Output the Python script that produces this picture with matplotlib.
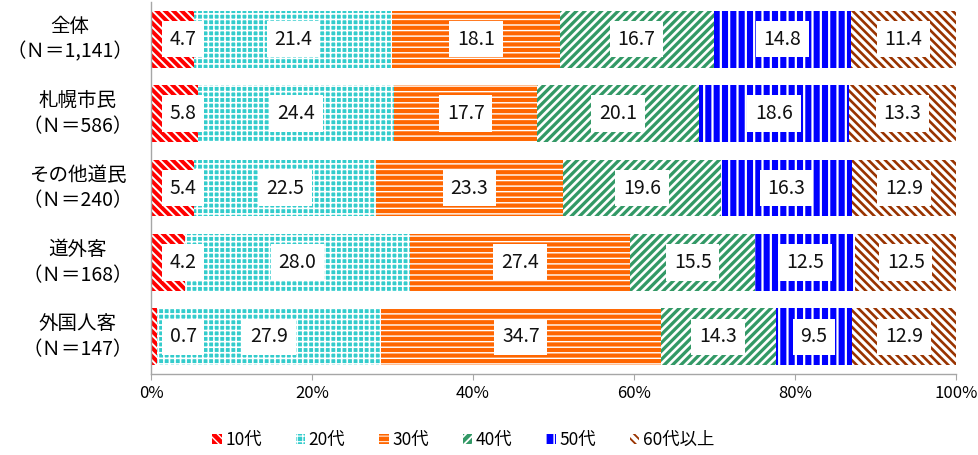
import matplotlib
matplotlib.use("Agg")
import matplotlib.pyplot as plt
from matplotlib.patches import Patch
import numpy as np

plt.rcParams['font.family'] = ['Noto Sans CJK JP', 'DejaVu Sans']
plt.rcParams['hatch.linewidth'] = 1.6

categories = ["全体\n（Ｎ＝1,141）", "札幌市民\n（Ｎ＝586）", "その他道民\n（Ｎ＝240）",
              "道外客\n（Ｎ＝168）", "外国人客\n（Ｎ＝147）"]
series = ["10代", "20代", "30代", "40代", "50代", "60代以上"]
v10 = [4.7, 5.8, 5.4, 4.2, 0.7]
v20 = [21.4, 24.4, 22.5, 28.0, 27.9]
v30 = [18.1, 17.7, 23.3, 27.4, 34.7]
v40 = [16.7, 20.1, 19.6, 15.5, 14.3]
v50 = [14.8, 18.6, 16.3, 12.5, 9.5]
v60 = [11.4, 13.3, 12.9, 12.5, 12.9]
xticks = [0, 20, 40, 60, 80, 100]

values = np.array([v10, v20, v30, v40, v50, v60])
totals = values.sum(axis=0)
shares = values / totals * 100

# (face, hatch colour, hatch, hatch linewidth)
styles = [
    ("#FF0000", "white", "\\" * 4, 1.4),
    ("#33CCCC", "white", "+" * 3, 1.2),
    ("#FF6600", "white", "-" * 3, 1.0),
    ("#339966", "white", "/" * 4, 1.9),
    ("#0000FF", "white", "|" * 2, 1.6),
    ("white", "#993300", "\\" * 4, 1.9),
]

fig = plt.figure(figsize=(9.79, 4.55), dpi=100)
ax = fig.add_axes([151/979, (455-374)/455, (956-151)/979, 372/455])

y = np.arange(len(categories))
left = np.zeros(len(categories))
for i, name in enumerate(series):
    face, hc, hatch, hlw = styles[i]
    bars = ax.barh(y, shares[i], left=left, height=0.766, color=face,
                   edgecolor=hc, linewidth=0, hatch=hatch, zorder=2)
    for b in bars:
        try:
            b.set_hatch_linewidth(hlw)
        except AttributeError:
            pass
    for j in range(len(categories)):
        mid = left[j] + shares[i][j] / 2
        xpos = max(mid, 4.0)
        ax.text(xpos, y[j], f"{values[i][j]:.1f}", ha='center', va='center',
                fontsize=14, color='#111111', zorder=5,
                bbox=dict(boxstyle='square,pad=0.4', facecolor='white',
                          edgecolor='none'))
    left = left + shares[i]

ax.set_xlim(0, 100)
ax.set_ylim(4.5, -0.5)
ax.set_xticks(xticks)
ax.set_xticklabels([f"{t}%" for t in xticks], fontsize=12)
ax.set_yticks([])
for s in ['top', 'right']:
    ax.spines[s].set_visible(False)
for s in ['left', 'bottom']:
    ax.spines[s].set_color('#A6A6A6')
    ax.spines[s].set_linewidth(1.0)
ax.tick_params(axis='x', direction='out', length=4, color='#A6A6A6', pad=4)

for j, cat in enumerate(categories):
    ax.annotate(cat, xy=(133/979, y[j]), xycoords=('figure fraction', 'data'),
                ha='right', va='center', multialignment='center',
                fontsize=14, linespacing=1.3, annotation_clip=False)

handles = []
for i, name in enumerate(series):
    face, hc, hatch, hlw = styles[i]
    p = Patch(facecolor=face, edgecolor=hc, linewidth=0, hatch=hatch, label=name)
    handles.append(p)
leg = fig.legend(handles=handles, loc='center', bbox_to_anchor=(463/979, 1-440/455),
                 ncol=6, frameon=False, fontsize=12.5, handlelength=0.55, handleheight=0.55,
                 handletextpad=0.2, columnspacing=1.95)
for h, st in zip(leg.get_patches(), styles):
    try:
        h.set_hatch_linewidth(st[3] * 0.7)
    except AttributeError:
        pass

fig.savefig("out.png", dpi=100)
